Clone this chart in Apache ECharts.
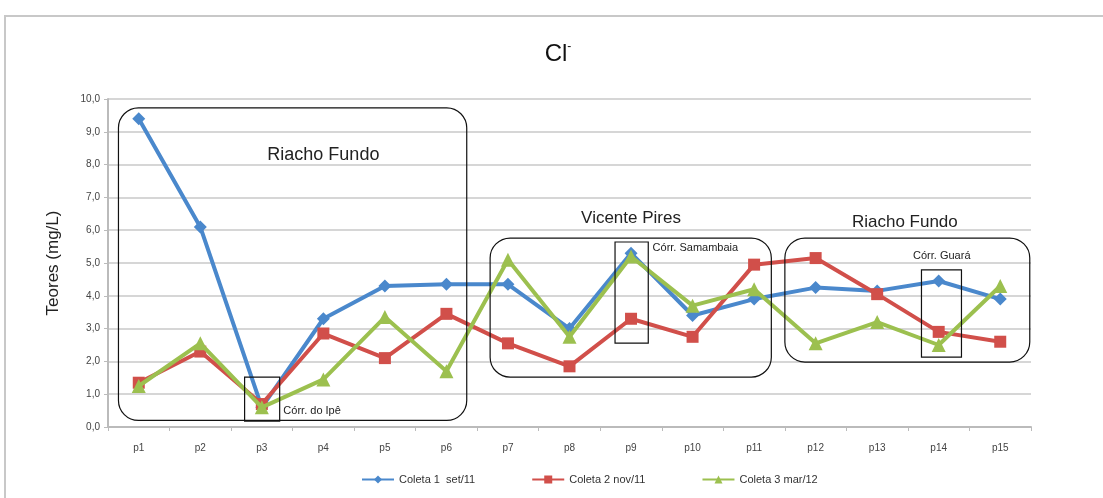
<!DOCTYPE html>
<html>
<head>
<meta charset="utf-8">
<script src="https://cdn.jsdelivr.net/npm/echarts@6/dist/echarts.min.js"></script>
<style>
  html, body { margin: 0; padding: 0; background: #fff; }
  #chart { width: 1103px; height: 498px; }
</style>
</head>
<body>
<div id="chart"></div>
<script>
// dados
var pontos = ["p1", "p2", "p3", "p4", "p5", "p6", "p7", "p8", "p9", "p10", "p11", "p12", "p13", "p14", "p15"];
var coleta1 = [9.4, 6.1, 0.6, 3.3, 4.3, 4.35, 4.35, 3.0, 5.3, 3.4, 3.9, 4.25, 4.15, 4.45, 3.9];
var coleta2 = [1.35, 2.3, 0.7, 2.85, 2.1, 3.45, 2.55, 1.85, 3.3, 2.75, 4.95, 5.15, 4.05, 2.9, 2.6];
var coleta3 = [1.25, 2.55, 0.6, 1.45, 3.35, 1.7, 5.1, 2.75, 5.2, 3.7, 4.2, 2.55, 3.2, 2.5, 4.3];
var nomes = ["Coleta 1  set/11", "Coleta 2 nov/11", "Coleta 3 mar/12"];

// caixas de destaque: [x0, y0, x1, y1] em coordenadas do gráfico (índice da categoria, teor)
var caixas = [
    { area: [-0.33, 9.73, 5.33, 0.2], raio: 20, texto: "Riacho Fundo", pos: [3.0, 8.3], tam: 18, align: "center" },
    { area: [1.72, 1.52, 2.29, 0.18], raio: 0, texto: "Córr. do Ipê", pos: [2.35, 0.5], tam: 11, align: "left" },
    { area: [5.71, 5.76, 10.28, 1.52], raio: 20, texto: "Vicente Pires", pos: [8.0, 6.35], tam: 17, align: "center" },
    { area: [7.74, 5.64, 8.28, 2.56], raio: 0, texto: "Córr. Samambaia", pos: [8.35, 5.45], tam: 11, align: "left" },
    { area: [10.5, 5.76, 14.48, 1.98], raio: 20, texto: "Riacho Fundo", pos: [12.45, 6.25], tam: 17, align: "center" },
    { area: [12.72, 4.79, 13.37, 2.13], raio: 0, texto: "Córr. Guará", pos: [13.05, 5.2], tam: 11, align: "center" }
];

var fonte = "'Liberation Sans', sans-serif";
var cores = ["#4a88cc", "#d14f4a", "#9cc04f"];

var myChart = echarts.init(document.getElementById('chart'));
var option = {
    animation: false,
    color: cores,
    title: {
        text: "{a|Cl}{b|-}",
        left: 553,
        top: 36,
        textAlign: "center",
        textStyle: {
            fontWeight: "normal",
            rich: {
                a: { fontFamily: fonte, fontSize: 24, color: "#111", fontWeight: "normal" },
                b: { fontFamily: fonte, fontSize: 12, color: "#111", fontWeight: "normal", verticalAlign: "top", padding: [0, 0, 14, 0] }
            }
        }
    },
    legend: {
        data: nomes,
        bottom: 8,
        left: 356,
        itemGap: 56,
        itemWidth: 32,
        itemHeight: 10,
        selectedMode: false,
        textStyle: { fontFamily: fonte, fontSize: 11, color: "#333" }
    },
    grid: { left: 108, right: 72, top: 99, bottom: 71 },
    xAxis: [{
        type: "category",
        data: pontos,
        boundaryGap: true,
        axisLine: { lineStyle: { color: "#bbb", width: 2 } },
        axisTick: { show: true, lineStyle: { color: "#bbb" }, length: 4 },
        axisLabel: { fontFamily: fonte, fontSize: 10, color: "#444", margin: 16 }
    }, {
        // eixo auxiliar, invisível, para posicionar as caixas
        type: "value",
        min: -0.5,
        max: 14.5,
        show: false
    }],
    yAxis: {
        type: "value",
        min: 0,
        max: 10,
        interval: 1,
        name: "Teores (mg/L)",
        nameLocation: "middle",
        nameGap: 46,
        nameTextStyle: { fontFamily: fonte, fontSize: 17, color: "#222" },
        axisLine: { show: true, onZero: false, lineStyle: { color: "#bbb", width: 2 } },
        axisTick: { show: true, lineStyle: { color: "#bbb" }, length: 4 },
        axisLabel: {
            fontFamily: fonte, fontSize: 10, color: "#444",
            formatter: function (v) { return v.toFixed(1).replace(".", ","); }
        },
        splitLine: { lineStyle: { color: "#d6d6d6", width: 2 } }
    },
    series: [
        { name: nomes[0], type: "line", data: coleta1, symbol: "diamond", symbolSize: 13,
          lineStyle: { width: 4 }, z: 3 },
        { name: nomes[1], type: "line", data: coleta2, symbol: "rect", symbolSize: 12,
          lineStyle: { width: 4 }, z: 4 },
        { name: nomes[2], type: "line", data: coleta3, symbol: "triangle", symbolSize: 14,
          lineStyle: { width: 4 }, z: 5 }
    ]
};
myChart.setOption(option);

// caixas e rótulos desenhados a partir das coordenadas do gráfico
function px(p) { return myChart.convertToPixel({ xAxisIndex: 1, yAxisIndex: 0 }, p); }
var graficos = [{
    type: "rect",
    shape: { x: 5, y: 16, width: 1200, height: 600 },
    style: { fill: "none", stroke: "#c8c8c8", lineWidth: 2 },
    z: 0
}];
caixas.forEach(function (c) {
    var a = px([c.area[0], c.area[1]]);
    var b = px([c.area[2], c.area[3]]);
    graficos.push({
        type: "rect",
        shape: { x: a[0], y: a[1], width: b[0] - a[0], height: b[1] - a[1], r: c.raio },
        style: { fill: "none", stroke: "#111", lineWidth: 1.2 },
        z: 100
    });
    var t = px(c.pos);
    graficos.push({
        type: "text",
        x: t[0], y: t[1],
        style: {
            text: c.texto,
            fontFamily: fonte,
            fontSize: c.tam,
            fill: "#222",
            align: c.align,
            verticalAlign: "middle"
        },
        z: 100
    });
});
myChart.setOption({ graphic: graficos });
</script>
</body>
</html>
